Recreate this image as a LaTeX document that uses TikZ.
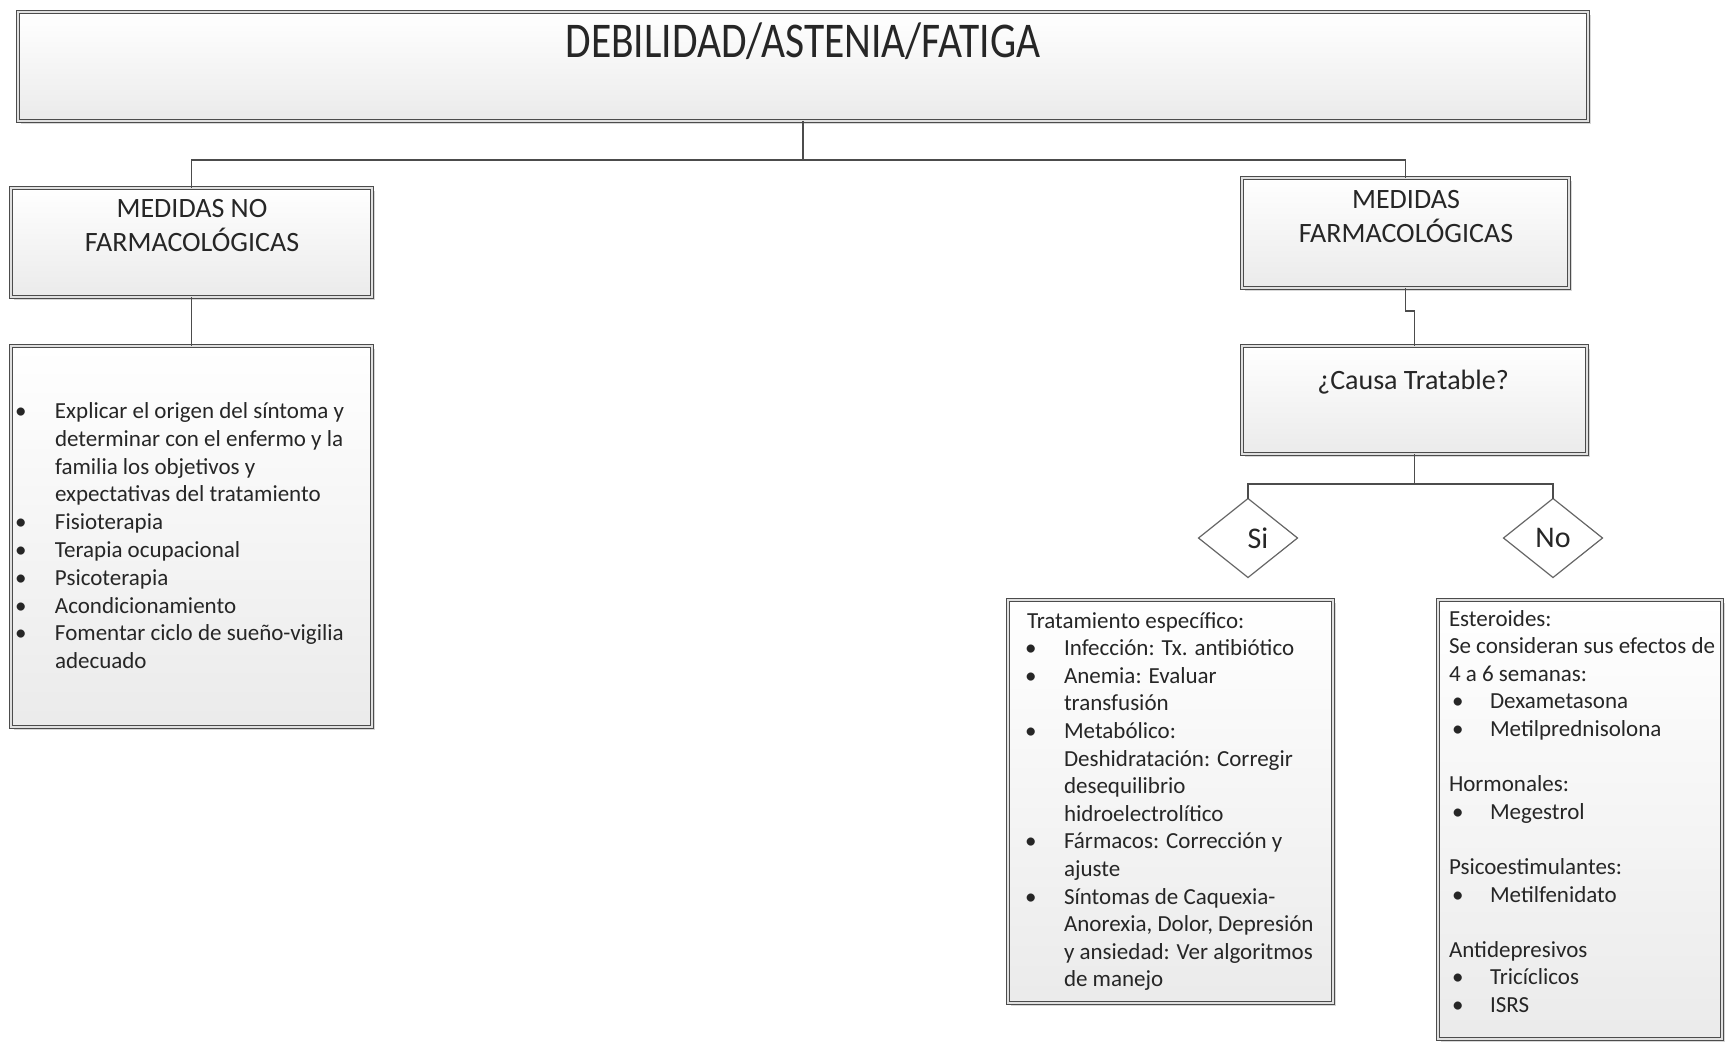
\documentclass[tikz,border=0pt]{standalone}
\usepackage{fontspec}
\usepackage{graphicx}
\setmainfont{Carlito}
\usetikzlibrary{shapes.geometric,shadows}
\definecolor{lineclr}{gray}{0.3}
\newcommand\mybul[1]{\makebox[#1][l]{\textbullet}}
\newcommand\myind[1]{\hspace*{#1}}
\begin{document}
\begin{tikzpicture}[x=1pt,y=-1pt,
  box/.style={draw=lineclr, line width=1.1pt, double=black!12, double distance=1.6pt,
    top color=white, bottom color=black!8, outer sep=0pt, inner sep=0pt,
    drop shadow={shadow xshift=3pt, shadow yshift=-3pt, fill=black!35, opacity=0.45}},
  conn/.style={draw=lineclr, line width=1.3pt},
  dia/.style={diamond, draw=black!60, line width=1.2pt, fill=white, minimum width=99pt,
    minimum height=79pt, inner sep=0pt, outer sep=0pt, font=\fontsize{30}{36}\selectfont, text=black!85},
  txt/.style={inner sep=0pt, outer sep=0pt, text=black!85},
  head/.style={txt, anchor=north, align=center, font=\fontsize{28}{34}\selectfont},
  lst/.style={txt, anchor=north west, align=left, font=\fontsize{23}{27.6}\selectfont}]
\useasboundingbox (0,0) rectangle (1728,1046);

% boxes
\node[box, minimum width=1570pt, minimum height=109pt] (T) at (803,66.5) {};
\node[box, minimum width=361pt, minimum height=109pt] (MNF) at (191.5,242.5) {};
\node[box, minimum width=361pt, minimum height=381pt] (L) at (191.5,536.5) {};
\node[box, minimum width=327pt, minimum height=110pt] (MF) at (1405.5,233) {};
\node[box, minimum width=345pt, minimum height=108pt] (C) at (1414.5,400) {};
\node[box, minimum width=325pt, minimum height=403pt] (SL) at (1170.5,801.5) {};
\node[box, minimum width=284pt, minimum height=439pt] (NL) at (1580,819.5) {};

% diamonds
\node[dia] (Si) at (1248,538) {\hspace*{20pt}Si};
\node[dia] (No) at (1553,538) {No};

% connectors
\coordinate (j1) at (803,160);
\draw[conn] (T.south) -- (j1);
\draw[conn] (MNF.north) |- (j1) -| (MF.north);
\draw[conn] (MNF.south) -- (L.north);
\draw[conn] (MF.south) -- ++(0,23) -| (C.north);
\coordinate (j2) at (1414.5,484);
\draw[conn] (C.south) -- (j2);
\draw[conn] (Si.north) |- (j2) -| (No.north);

% texts
\node[txt, anchor=base, font=\fontsize{50}{60}\selectfont] (tT) at (803,58)
  {\scalebox{0.83}[1]{DEBILIDAD/ASTENIA/FATIGA}};
\node[head] (tMNF) at (192,193.2) {\strut MEDIDAS NO\\FARMACOLÓGICAS};
\node[head] (tMF) at (1406,184.2) {\strut MEDIDAS\\FARMACOLÓGICAS};
\node[head] (tC) at (1413,365.2) {\strut ¿Causa Tratable?};

\node[lst, font=\fontsize{23}{27.8}\selectfont] (tL) at (15,399) {\strut\mybul{40pt}Explicar el origen del síntoma y\\
\myind{40pt}determinar con el enfermo y la\\
\myind{40pt}familia los objetivos y\\
\myind{40pt}expectativas del tratamiento\\
\mybul{40pt}Fisioterapia\\
\mybul{40pt}Terapia ocupacional\\
\mybul{40pt}Psicoterapia\\
\mybul{40pt}Acondicionamiento\\
\mybul{40pt}Fomentar ciclo de sueño-vigilia\\
\myind{40pt}adecuado};

\node[lst] (tSL) at (1025,608.7) {\strut\myind{2pt}Tratamiento específico:\\
\mybul{39pt}Infección: Tx. antibiótico\\
\mybul{39pt}Anemia: Evaluar\\
\myind{39pt}transfusión\\
\mybul{39pt}Metabólico:\\
\myind{39pt}Deshidratación: Corregir\\
\myind{39pt}desequilibrio\\
\myind{39pt}hidroelectrolítico\\
\mybul{39pt}Fármacos: Corrección y\\
\myind{39pt}ajuste\\
\mybul{39pt}Síntomas de Caquexia-\\
\myind{39pt}Anorexia, Dolor, Depresión\\
\myind{39pt}y ansiedad: Ver algoritmos\\
\myind{39pt}de manejo};

\node[lst] (tNL) at (1449,606.7) {\strut Esteroides:\\
Se consideran sus efectos de\\
4 a 6 semanas:\\
\myind{3pt}\mybul{38pt}Dexametasona\\
\myind{3pt}\mybul{38pt}Metilprednisolona\\
\mbox{}\\
Hormonales:\\
\myind{3pt}\mybul{38pt}Megestrol\\
\mbox{}\\
Psicoestimulantes:\\
\myind{3pt}\mybul{38pt}Metilfenidato\\
\mbox{}\\
Antidepresivos\\
\myind{3pt}\mybul{38pt}Tricíclicos\\
\myind{3pt}\mybul{38pt}ISRS};
\end{tikzpicture}
\end{document}
